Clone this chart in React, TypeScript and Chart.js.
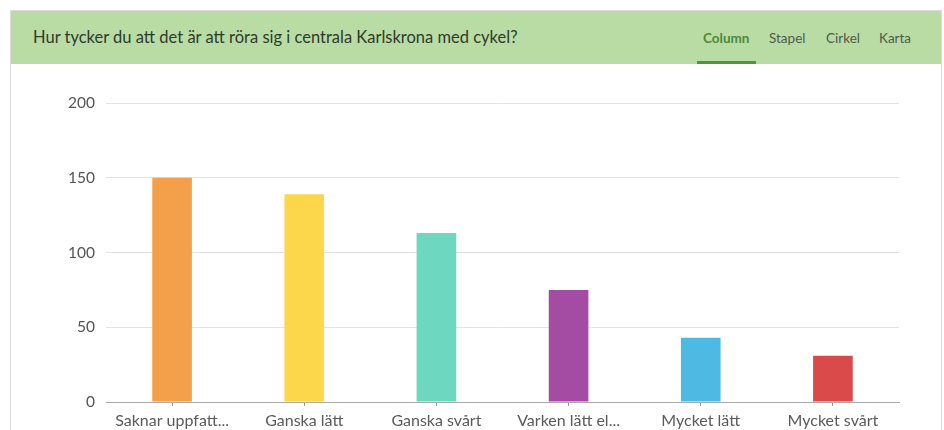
import React, { useEffect, useRef } from "react";
import { Chart, registerables } from "chart.js";

Chart.register(...registerables);

const title = "Hur tycker du att det är att röra sig i centrala Karlskrona med cykel?";
const tabs = ["Column", "Stapel", "Cirkel", "Karta"];
const categories = ["Saknar uppfatt...", "Ganska lätt", "Ganska svårt", "Varken lätt el...", "Mycket lätt", "Mycket svårt"];
const values = [150, 139, 113, 75, 43, 31];
const barColors = ["#f4a04b", "#fdd74b", "#6dd8bf", "#a44ca4", "#4ebae3", "#db4a4a"];
const yTicks = [0, 50, 100, 150, 200];

export default function App() {
  const ref = useRef<HTMLCanvasElement | null>(null);

  useEffect(() => {
    if (!ref.current) return;
    const chart = new Chart(ref.current, {
      type: "bar",
      data: {
        labels: categories,
        datasets: [
          {
            data: values,
            backgroundColor: barColors,
            barPercentage: 0.3,
            categoryPercentage: 1,
          },
        ],
      },
      options: {
        animation: false,
        responsive: false,
        maintainAspectRatio: false,
        layout: { padding: { top: 39, left: 0, right: 42, bottom: 0 } },
        plugins: { legend: { display: false }, tooltip: { enabled: false } },
        scales: {
          x: {
            afterFit: (s: any) => { s.height = 28; },
            grid: { offset: false, drawOnChartArea: false, drawTicks: true, tickLength: 4, color: "#999" },
            border: { color: "#aaa" },
            ticks: { color: "#5a5a5a", font: { family: "Lato", size: 16 }, padding: 5, maxRotation: 0, autoSkip: false },
          },
          y: {
            min: 0,
            max: 200,
            afterFit: (s: any) => { s.width = 95; },
            afterBuildTicks: (s: any) => { s.ticks = yTicks.map((v) => ({ value: v })); },
            grid: { color: "#e3e3e3", drawTicks: false },
            border: { display: false },
            ticks: { color: "#555", font: { family: "Lato", size: 15.5 }, padding: 11 },
          },
        },
      },
    });
    return () => chart.destroy();
  }, []);

  const tabLeft = [703, 769, 826, 879];

  return (
    <div style={{ position: "absolute", left: 0, top: 0, width: 944, height: 430, overflow: "hidden", background: "#fff", fontFamily: "Lato, sans-serif" }}>
      <div style={{ position: "absolute", left: 10, top: 10, width: 932, height: 420, border: "1px solid #dcdcdc", borderBottom: "none", boxSizing: "border-box" }} />
      <div style={{ position: "absolute", left: 11, top: 11, width: 930, height: 53, background: "#b9dca5" }}>
        <div style={{ position: "absolute", left: 22, top: 16, fontSize: 16.5, color: "#2f3a2c", whiteSpace: "nowrap" }}>{title}</div>
        {tabs.map((t, i) => (
          <div key={t} style={{ position: "absolute", left: tabLeft[i] - 11, top: 19, fontSize: 13.5, fontWeight: i === 0 ? 700 : 400, color: i === 0 ? "#4a8a3a" : "#4f5a4c", whiteSpace: "nowrap" }}>{t}</div>
        ))}
        <div style={{ position: "absolute", left: 686, top: 50, width: 59, height: 3, background: "#4a9a3c" }} />
      </div>
      <canvas ref={ref} width={930} height={366} style={{ position: "absolute", left: 11, top: 64, width: 930, height: 366 }} />
    </div>
  );
}
